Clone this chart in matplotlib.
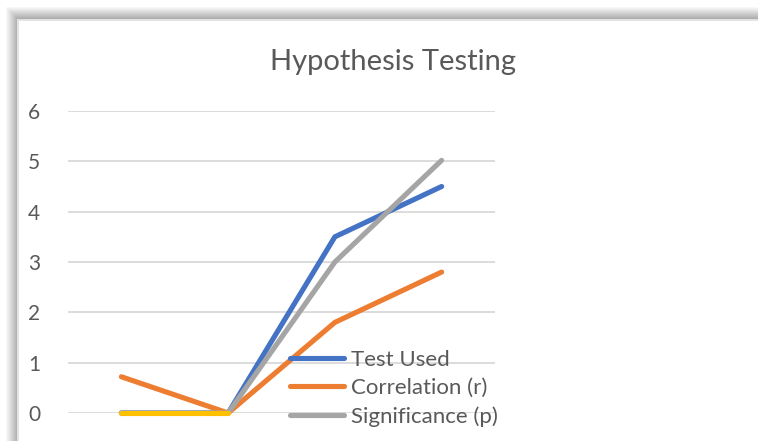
import numpy as np
import matplotlib
matplotlib.use("Agg")
import matplotlib.pyplot as plt
from matplotlib.patches import Rectangle

# datos (las etiquetas del eje x quedan fuera del recorte)
categories = [1, 2, 3, 4]
test_used = [0, 0, 3.5, 4.5]
correlation = [0.72, 0, 1.8, 2.8]
significance = [0, 0, 3.0, 5.02]
sample_size = [0, 0, np.nan, np.nan]

series_names = ["Test Used", "Correlation (r)", "Significance (p)"]
y_ticks = [0, 1, 2, 3, 4, 5, 6]

W, H = 758, 441
TXT = "#595959"
FONT = ["Lato", "DejaVu Sans"]
plt.rcParams["font.family"] = FONT

fig = plt.figure(figsize=(W / 100, H / 100), dpi=100)
fig.patch.set_facecolor("white")

# fondo con la sombra del marco (coordenadas en pixeles)
bg = fig.add_axes([0, 0, 1, 1])
bg.set_xlim(0, W)
bg.set_ylim(H, 0)
bg.axis("off")
steps = 12
for i in range(steps):
    g = 1.0 - 0.32 * (i + 1) / steps
    bg.add_patch(Rectangle((6 + i, 7 + i), W, H, facecolor=(g, g, g), edgecolor="none"))
bg.add_patch(Rectangle((17, 19), W, H, facecolor="#e2e2e2", edgecolor="none"))
bg.add_patch(Rectangle((19, 21), W, H, facecolor="white", edgecolor="none"))

# area del grafico
left, right, y0, y6 = 68, 495, 413, 111
ax = fig.add_axes([left / W, 1 - y0 / H, (right - left) / W, (y0 - y6) / H])
ax.set_facecolor("none")

lw = 3.7
kw = dict(lw=lw, solid_capstyle="round", clip_on=False)
l1, = ax.plot(categories, test_used, color="#4472C4", **kw)
l2, = ax.plot(categories, correlation, color="#ED7D31", **kw)
l3, = ax.plot(categories, significance, color="#A5A5A5", **kw)
ax.plot(categories, sample_size, color="#FFC000", **kw)

ax.set_xlim(0.5, 4.5)
ax.set_ylim(0, 6)
ax.set_yticks(y_ticks)
ax.grid(axis="y", color="#d9d9d9", lw=1.3)
ax.set_axisbelow(True)
for s in ax.spines.values():
    s.set_visible(False)
ax.tick_params(axis="y", length=0, pad=20, labelsize=15, labelcolor=TXT)
ax.tick_params(axis="x", length=0, labelbottom=False)

fig.text(393 / W, 1 - 62 / H, "Hypothesis Testing", ha="center", va="center",
         fontsize=21, color=TXT)

leg = ax.legend([l1, l2, l3], series_names, loc="upper left",
                bbox_to_anchor=(290 / W, 1 - 350 / H), bbox_transform=fig.transFigure,
                frameon=False, fontsize=16, handlelength=2.45, handletextpad=0.28,
                labelspacing=0.36, borderpad=0, borderaxespad=0)
for t in leg.get_texts():
    t.set_color(TXT)

fig.savefig("out.png", dpi=100)
